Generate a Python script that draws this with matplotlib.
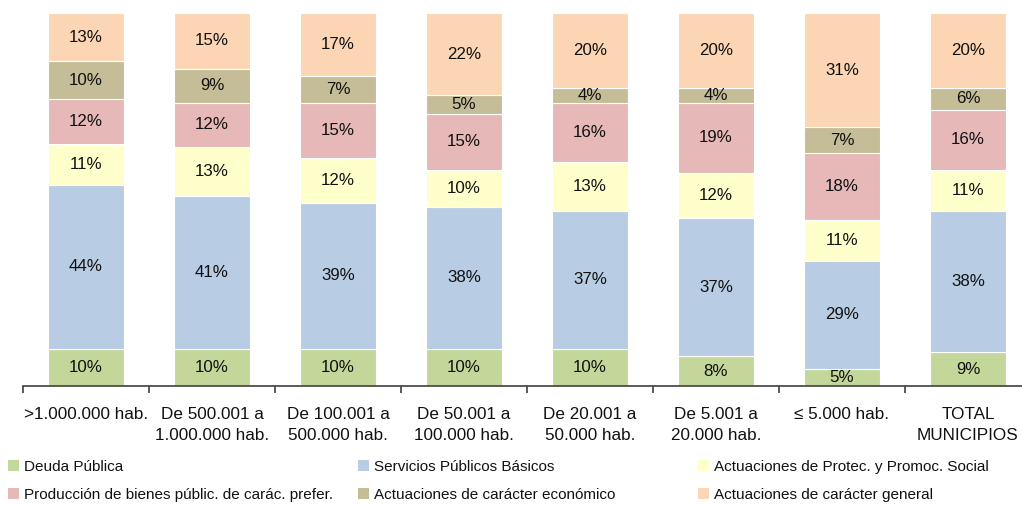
import matplotlib
matplotlib.use("Agg")
import matplotlib.pyplot as plt
import numpy as np
from matplotlib.patches import Patch

plt.rcParams['font.family'] = ['Liberation Sans', 'DejaVu Sans']
fs_bar, fs_tick, fs_leg = 12.2, 12.3, 11
tick_ls, leg_ls, hsz, htp = 1.5, 0.92, 0.7, 0.35

categories = [">1.000.000 hab.", "De 500.001 a\n1.000.000 hab.", "De 100.001 a\n500.000 hab.",
              "De 50.001 a\n100.000 hab.", "De 20.001 a\n50.000 hab.", "De 5.001 a\n20.000 hab.",
              "≤ 5.000 hab.", "TOTAL\nMUNICIPIOS"]

series_names = ["Deuda Pública", "Servicios Públicos Básicos", "Actuaciones de Protec. y Promoc. Social",
                "Producción de bienes públic. de carác. prefer.", "Actuaciones de carácter económico",
                "Actuaciones de carácter general"]

deuda = [10, 10, 10, 10, 10, 8, 4.6, 9]
servicios = [44, 41, 39, 38, 37, 37, 29, 38]
protec = [11, 13, 12, 10, 13, 12, 10.8, 11]
produccion = [12, 12, 15, 15, 16, 19, 18, 16]
economico = [10, 9, 7, 5, 4, 4, 7, 6]
general = [13, 15, 17, 22, 20, 20, 30.6, 20]

colors = ["#C4D79B", "#B8CCE4", "#FFFFCC", "#E6B8B7", "#C4BD97", "#FCD5B4"]

series = [deuda, servicios, protec, produccion, economico, general]

W, H = 1022, 505
fig = plt.figure(figsize=(W / 100, H / 100), dpi=100)
ax = fig.add_axes([23 / W, (H - 386) / H, 1008 / W, 373 / H])

x = np.arange(len(categories))
bottom = np.zeros(len(categories))
for vals, col in zip(series, colors):
    v = np.array(vals, dtype=float)
    ax.bar(x, v, 0.6, bottom=bottom, color=col, edgecolor='white', linewidth=0.8)
    for xi, b, vi in zip(x, bottom, v):
        ax.text(xi, b + vi / 2, f"{round(vi):.0f}%", ha='center', va='center',
                fontsize=fs_bar, color='#111111')
    bottom += v

ax.set_xlim(-0.5, len(categories) - 0.5)
ax.set_ylim(0, 100)
for s in ['top', 'right', 'left']:
    ax.spines[s].set_visible(False)
ax.spines['bottom'].set_color('#404040')
ax.spines['bottom'].set_linewidth(1.2)
ax.set_yticks([])
ax.set_xticks(x)
ax.set_xticklabels(categories, fontsize=fs_tick, linespacing=tick_ls, color='#111111')
ax.tick_params(axis='x', which='major', length=0, pad=15)
ax.set_xticks(np.arange(-0.5, len(categories), 1), minor=True)
ax.tick_params(axis='x', which='minor', length=5, width=1.2, color='#404040', direction='out')

handles = [Patch(facecolor=c, edgecolor='none') for c in colors]
cols = [(8, [0, 3]), (358, [1, 4]), (698, [2, 5])]
for xpos, idx in cols:
    fig.legend([handles[i] for i in idx], [series_names[i] for i in idx],
               loc='upper left', bbox_to_anchor=(xpos / W, (H - 460) / H),
               frameon=False, fontsize=fs_leg, borderpad=0, borderaxespad=0,
               handlelength=hsz, handleheight=hsz, handletextpad=htp,
               labelspacing=leg_ls, labelcolor='#111111')

fig.savefig("out.png", dpi=100)
